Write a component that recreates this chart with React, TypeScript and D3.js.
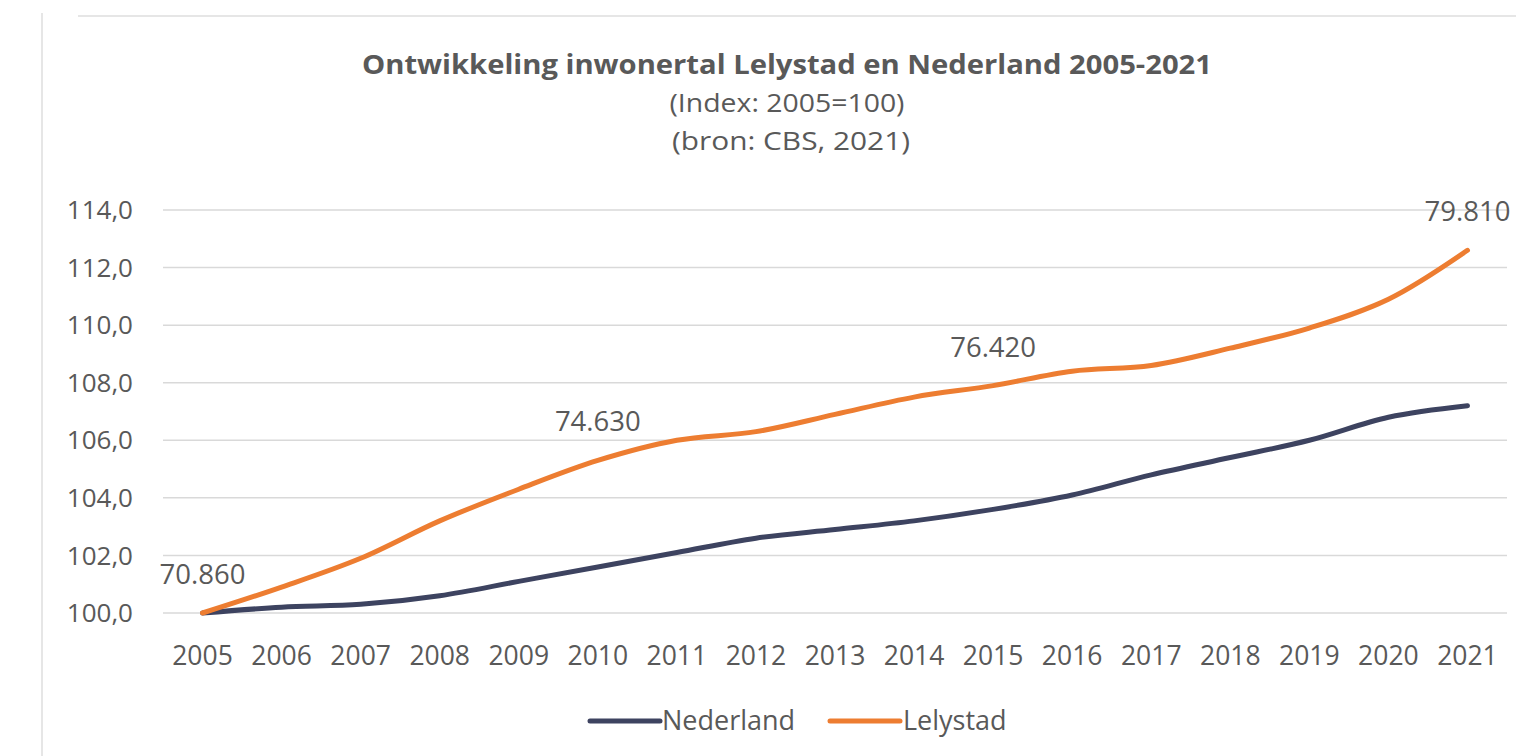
import React from "react";
import * as d3 from "d3";

const years = [2005, 2006, 2007, 2008, 2009, 2010, 2011, 2012, 2013, 2014, 2015, 2016, 2017, 2018, 2019, 2020, 2021];
const nederland = [100.0, 100.2, 100.3, 100.6, 101.1, 101.6, 102.1, 102.6, 102.9, 103.2, 103.6, 104.1, 104.8, 105.4, 106.0, 106.8, 107.2];
const lelystad = [100.0, 100.9, 101.9, 103.2, 104.3, 105.3, 106.0, 106.3, 106.9, 107.5, 107.9, 108.4, 108.6, 109.2, 109.9, 110.9, 112.6];
const yTicks = [100, 102, 104, 106, 108, 110, 112, 114];
const labelYears = [2005, 2010, 2015, 2021];
const labelTexts = ["70.860", "74.630", "76.420", "79.810"];
const seriesNames = ["Nederland", "Lelystad"];
const titleLines = ["Ontwikkeling inwonertal Lelystad en Nederland 2005-2021", "(Index: 2005=100)", "(bron: CBS, 2021)"];

const W = 1516;
const H = 756;
const NAVY = "#3d4360";
const ORANGE = "#ed7d31";
const TEXT = "#595959";
const GRID = "#d9d9d9";
const FONT = "'Open Sans', sans-serif";

export default function App() {
  const x = d3.scalePoint<number>().domain(years).range([163, 1507]).padding(0.5);
  const y = d3.scaleLinear().domain([100, 114]).range([613, 210]);
  const line = d3
    .line<number>()
    .x((_, i) => x(years[i]) as number)
    .y((d) => y(d))
    .curve(d3.curveCatmullRom.alpha(0.5));
  const fmt = (v: number) => v.toFixed(1).replace(".", ",");

  return (
    <svg width={W} height={H} style={{ position: "absolute", left: 0, top: 0, background: "#fff" }} fontFamily={FONT}>
      <rect x={0} y={0} width={W} height={H} fill="#fff" />
      {/* frame */}
      <line x1={42} x2={42} y1={13} y2={H} stroke="#e6e6e6" strokeWidth={2} />
      <line x1={78} x2={W} y1={16} y2={16} stroke="#e6e6e6" strokeWidth={2} />

      {/* title */}
      <text x={787} y={74} textAnchor="middle" fill={TEXT} fontSize={26} fontWeight="bold" textLength={850} lengthAdjust="spacingAndGlyphs">
        {titleLines[0]}
      </text>
      <text x={787} y={112} textAnchor="middle" fill={TEXT} fontSize={26} textLength={235} lengthAdjust="spacingAndGlyphs">
        {titleLines[1]}
      </text>
      <text x={791} y={150} textAnchor="middle" fill={TEXT} fontSize={26} textLength={238} lengthAdjust="spacingAndGlyphs">
        {titleLines[2]}
      </text>

      {/* grid + y ticks */}
      {yTicks.map((t) => (
        <g key={t}>
          <line x1={163} x2={1507} y1={y(t)} y2={y(t)} stroke={GRID} strokeWidth={1.5} />
          <text x={133} y={y(t)} dy="0.35em" textAnchor="end" fill={TEXT} fontSize={26}>
            {fmt(t)}
          </text>
        </g>
      ))}

      {/* x ticks */}
      {years.map((yr) => (
        <text key={yr} x={x(yr)} y={665} textAnchor="middle" fill={TEXT} fontSize={26.5}>
          {yr}
        </text>
      ))}

      {/* lines */}
      <path d={line(nederland) || ""} fill="none" stroke={NAVY} strokeWidth={5} strokeLinecap="round" strokeLinejoin="round" />
      <path d={line(lelystad) || ""} fill="none" stroke={ORANGE} strokeWidth={5} strokeLinecap="round" strokeLinejoin="round" />

      {/* data labels */}
      {labelYears.map((yr, i) => (
        <text key={yr} x={x(yr)} y={y(lelystad[years.indexOf(yr)]) - 29} textAnchor="middle" fill={TEXT} fontSize={27.5}>
          {labelTexts[i]}
        </text>
      ))}

      {/* legend */}
      <line x1={590} x2={660} y1={721} y2={721} stroke={NAVY} strokeWidth={5} strokeLinecap="round" />
      <text x={662} y={721} dy="0.35em" fill={TEXT} fontSize={27}>
        {seriesNames[0]}
      </text>
      <line x1={830} x2={900} y1={721} y2={721} stroke={ORANGE} strokeWidth={5} strokeLinecap="round" />
      <text x={903} y={721} dy="0.35em" fill={TEXT} fontSize={27}>
        {seriesNames[1]}
      </text>
    </svg>
  );
}
